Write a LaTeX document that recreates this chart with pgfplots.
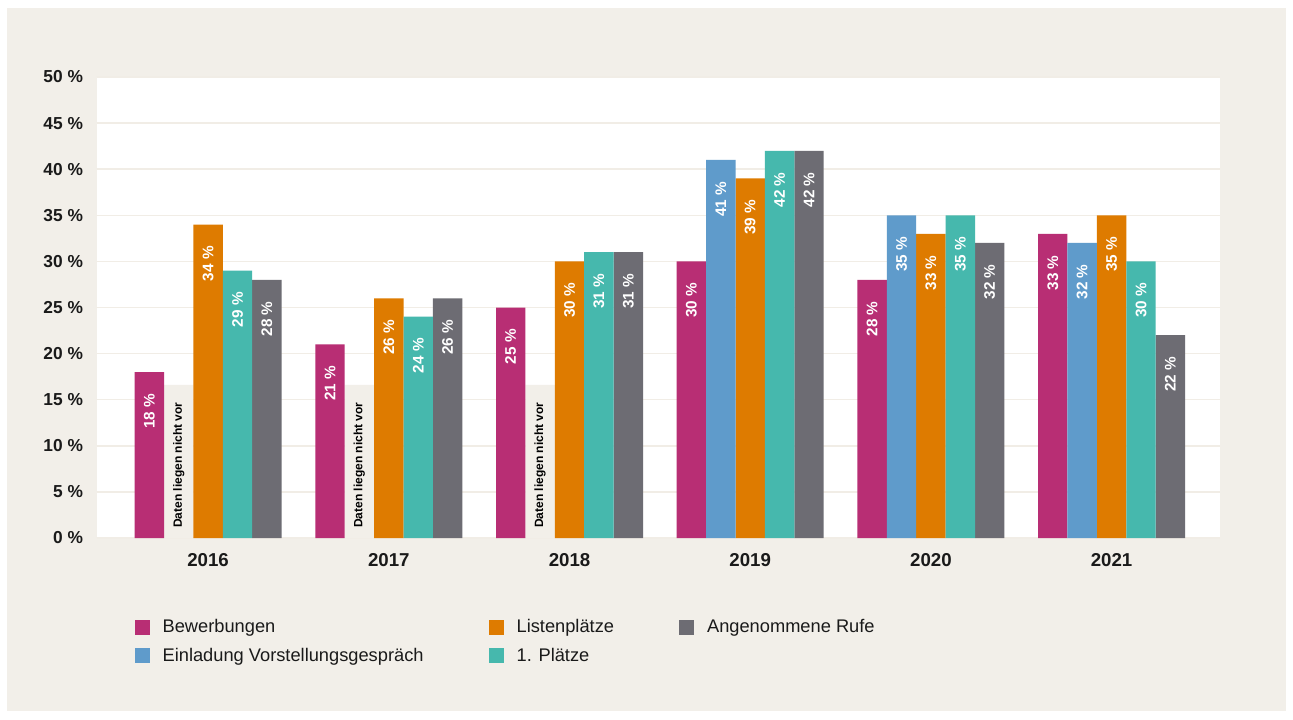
\documentclass[border=0pt]{standalone}
\usepackage{pgfplots}
\pgfplotsset{compat=1.18}
\usepackage{fontspec}
\setmainfont{Liberation Sans}
\definecolor{cMag}{HTML}{B82E74}
\definecolor{cBlue}{HTML}{5F9BCB}
\definecolor{cOra}{HTML}{DE7B00}
\definecolor{cTeal}{HTML}{46B8AD}
\definecolor{cGrey}{HTML}{6D6C73}
\definecolor{cBg}{HTML}{F2EFE9}
\definecolor{cGrid}{HTML}{F1EDE6}
\definecolor{cTxt}{HTML}{1A1A1A}
\begin{document}
\begin{tikzpicture}
\fill[white] (0,0) rectangle (969.75pt,-539.25pt);
\fill[cBg] (5.25pt,-6pt) rectangle (964.5pt,-533.25pt);
\begin{axis}[
  at={(72.75pt,-403.5pt)}, anchor=south west,
  scale only axis, width=842.25pt, height=345.75pt,
  xmin=-0.615, xmax=5.6, ymin=0, ymax=50,
  axis line style={draw=none},
  axis background/.style={fill=white},
  ybar=0pt, bar width=22.05pt,
  /pgf/number format/assume math mode=true,
  ytick={0,5,...,50},
  yticklabel={\textbf{\pgfmathprintnumber{\tick}\ \%}},
  yticklabel style={font=\fontsize{13}{15}\selectfont, text=cTxt, xshift=-7pt},
  xtick={0,...,5},
  xticklabels={2016,2017,2018,2019,2020,2021},
  xticklabel style={font=\fontsize{14}{16}\selectfont\bfseries, text=cTxt, yshift=-8pt},
  major tick length=0pt,
  ymajorgrids, major grid style={cGrid, line width=1.1pt},
  nodes near coords={\pgfmathprintnumber{\pgfplotspointmeta}\ \%},
  every node near coord/.append style={rotate=90, anchor=east, inner xsep=16pt,
     font=\fontsize{11.5}{13}\selectfont\bfseries, text=white},
  legend columns=3,
  legend style={at={(0.030,-0.165)}, anchor=north west, draw=none, fill=none,
     font=\fontsize{13.7}{16}\selectfont, text=cTxt, row sep=6pt,
     /tikz/every even column/.append style={column sep=47pt},
     /tikz/every odd column/.append style={column sep=7.5pt}},
  legend cell align=left,
  legend image code/.code={\fill[#1, draw=none] (0pt,-5.6pt) rectangle (11.25pt,5.6pt);},
]
% placeholder bars
\addplot[fill=cBg, draw=none, bar shift=-22.05pt, forget plot, nodes near coords={}] coordinates {(0,16.6) (1,16.6) (2,16.6)};
\addplot[fill=none, draw=none, bar shift=-22.05pt, forget plot,
  nodes near coords={Daten liegen nicht vor},
  every node near coord/.append style={anchor=west, inner xsep=7.5pt,
     font=\fontsize{9}{11}\selectfont\bfseries, text=black}] coordinates {(0,0) (1,0) (2,0)};
% series (legend order row-wise)
\addplot[fill=cMag, draw=none, bar shift=-44.1pt] coordinates {(0,18) (1,21) (2,25) (3,30) (4,28) (5,33)};
\addlegendentry{Bewerbungen}
\addplot[fill=cOra, draw=none, bar shift=0pt] coordinates {(0,34) (1,26) (2,30) (3,39) (4,33) (5,35)};
\addlegendentry{Listenplätze}
\addplot[fill=cGrey, draw=none, bar shift=44.1pt] coordinates {(0,28) (1,26) (2,31) (3,42) (4,32) (5,22)};
\addlegendentry{Angenommene Rufe}
\addplot[fill=cBlue, draw=none, bar shift=-22.05pt] coordinates {(3,41) (4,35) (5,32)};
\addlegendentry{Einladung Vorstellungsgespräch}
\addplot[fill=cTeal, draw=none, bar shift=22.05pt] coordinates {(0,29) (1,24) (2,31) (3,42) (4,35) (5,30)};
\addlegendentry{1. Plätze}
\end{axis}
\end{tikzpicture}
\end{document}
